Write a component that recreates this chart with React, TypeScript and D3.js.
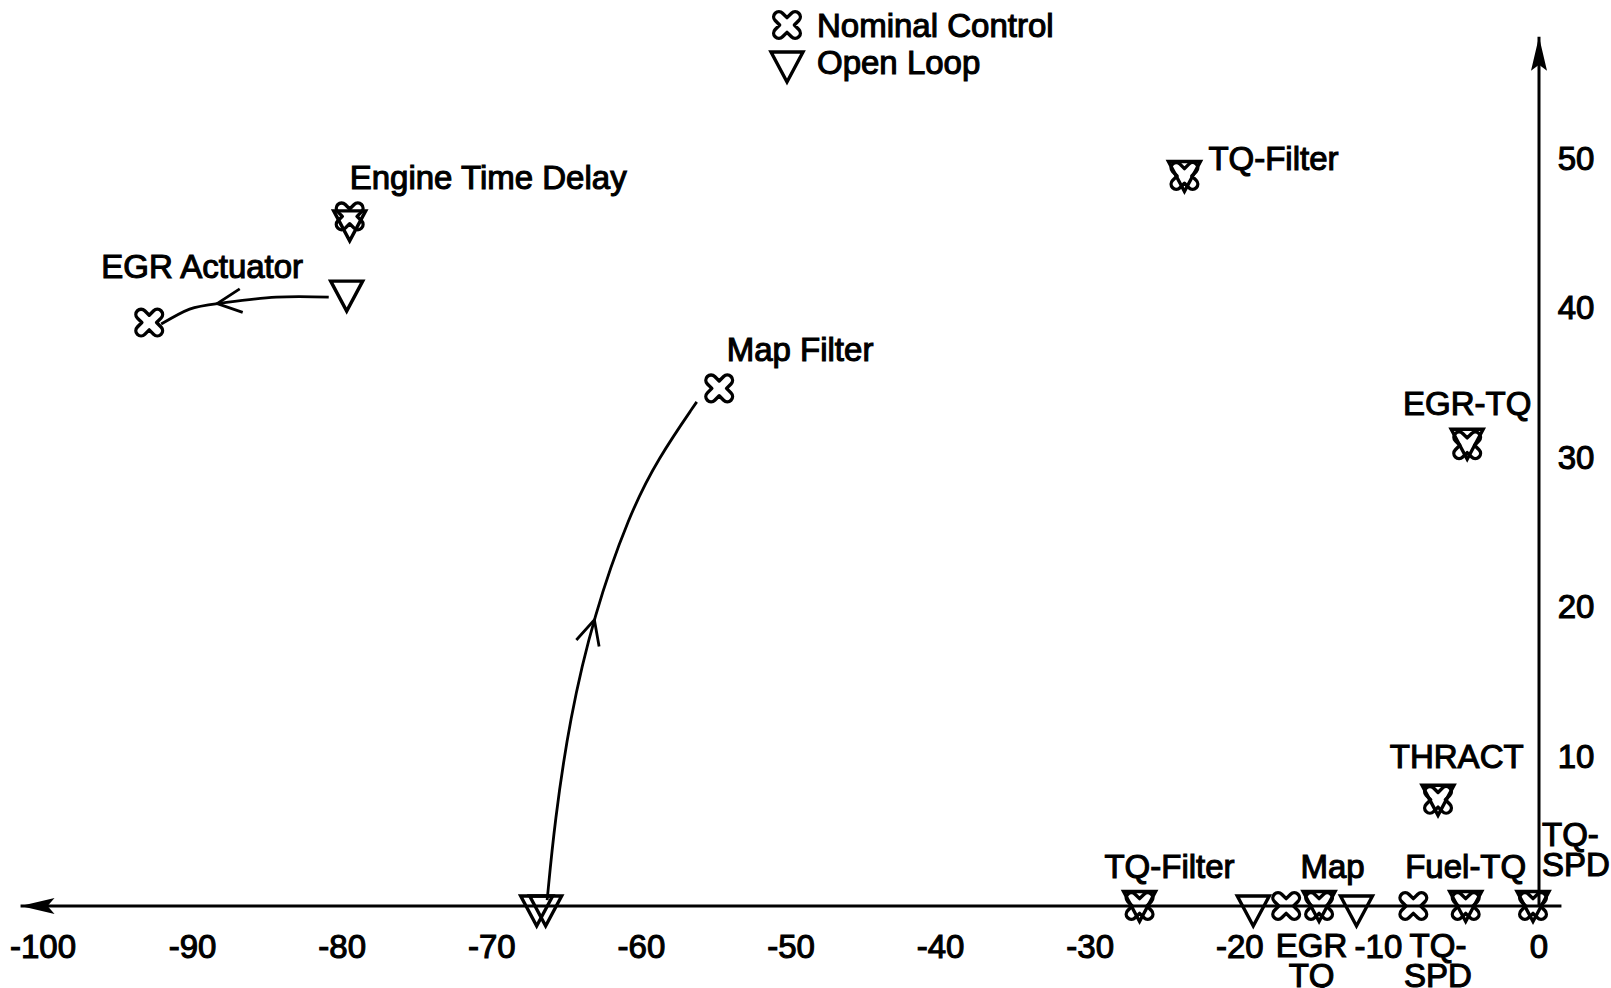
import React, { useEffect, useRef } from 'react';
import * as d3 from 'd3';

const W = 1611;
const H = 988;

// Axis ticks
const xTicks = [-100, -90, -80, -70, -60, -50, -40, -30, -20, -10, 0];
const yTicks = [10, 20, 30, 40, 50];
const xAxisExtent = [-101.5, 1.5];
const yAxisExtent = [0, 58.1];

// Nominal Control (rounded X markers)
const nominalX = [-79.5, -92.9, -54.8, -23.7, -4.8, -6.75, -26.7, -16.9, -14.7, -8.4, -4.9, -0.4];
const nominalY = [46.1, 39.0, 34.6, 48.8, 30.8, 7.1, 0, 0, 0, 0, 0, 0];

// Open Loop (triangle markers)
const openX = [-79.5, -79.7, -67.0, -66.4, -23.7, -4.8, -6.75, -26.7, -19.1, -14.7, -12.2, -4.9, -0.4];
const openY = [45.8, 41.1, 0, 0, 49.1, 31.2, 7.4, 0.3, 0, 0.3, 0, 0.3, 0.3];

// Trajectories (open loop -> nominal)
const egrPathX = [-80.9, -84.4, -88.1, -90.2, -92.1];
const egrPathY = [40.7, 40.7, 40.3, 39.9, 38.9];
const mapPathX = [-66.3, -65.8, -64.8, -63.2, -60.8, -58.9, -56.3];
const mapPathY = [0.4, 5.6, 12.5, 19.4, 26.2, 29.9, 33.7];
const arrowFractions = [0.65, 0.54];

// Point labels
const labelText = [
  ['Engine Time Delay'],
  ['EGR Actuator'],
  ['Map Filter'],
  ['TQ-Filter'],
  ['EGR-TQ'],
  ['THRACT'],
  ['TQ-Filter'],
  ['Map'],
  ['Fuel-TQ'],
  ['TQ-', 'SPD'],
  ['EGR', 'TQ'],
  ['TQ-', 'SPD'],
];
const labelX = [-79.5, -96.1, -54.3, -22.1, -4.8, -5.5, -24.7, -13.8, -4.9, 0.2, -15.2, -6.75];
const labelY = [48.7, 42.8, 37.2, 50.0, 33.6, 10.0, 2.7, 2.7, 2.7, 4.8, -2.6, -2.6];
const labelAnchor = ['start', 'start', 'start', 'start', 'middle', 'middle', 'middle', 'middle', 'middle', 'start', 'middle', 'middle'];

const legendItems = ['Nominal Control', 'Open Loop'];

const FONT = '"Liberation Sans", Arial, Helvetica, sans-serif';
const FS = 33;
// tick label nudges (px) used in the original to make room for point labels
const tickLabelShift = new Map<number, number>([[-10, -11]]);

function nominalPath(w: number, L: number): string {
  const q = w * Math.SQRT2;
  let d = '';
  [45, 135, 225, 315].forEach((deg, k) => {
    const t = (deg * Math.PI) / 180;
    const ux = Math.cos(t), uy = Math.sin(t);
    const nx = -uy, ny = ux;
    const na = t - Math.PI / 4;
    const notch = [q * Math.cos(na), q * Math.sin(na)];
    const s = [L * ux - w * nx, L * uy - w * ny];
    const e = [L * ux + w * nx, L * uy + w * ny];
    d += `${k === 0 ? 'M' : 'L'}${notch[0]},${notch[1]}L${s[0]},${s[1]}A${w},${w} 0 0 1 ${e[0]},${e[1]}`;
  });
  return d + 'Z';
}

const trianglePath = 'M-16,-10L16,-10L0,20Z';

export default function App() {
  const ref = useRef<SVGSVGElement | null>(null);

  useEffect(() => {
    document.body.style.margin = '0';
    document.body.style.overflow = 'hidden';
    const svg = d3.select(ref.current);
    svg.selectAll('*').remove();

    const x = d3.scaleLinear().domain([-100, 0]).range([43, 1539]);
    const y = d3.scaleLinear().domain([0, 50]).range([906, 158]);

    svg.append('rect').attr('width', W).attr('height', H).attr('fill', '#fff');

    const g = svg.append('g');

    // Axes
    g.append('line')
      .attr('x1', x(xAxisExtent[0])).attr('x2', x(xAxisExtent[1]))
      .attr('y1', y(0)).attr('y2', y(0))
      .attr('stroke', '#000').attr('stroke-width', 3);
    g.append('line')
      .attr('x1', x(0)).attr('x2', x(0))
      .attr('y1', y(yAxisExtent[0])).attr('y2', y(yAxisExtent[1]))
      .attr('stroke', '#000').attr('stroke-width', 3);

    // Axis arrowheads
    const lx = x(xAxisExtent[0]), ly = y(0);
    g.append('path')
      .attr('d', `M${lx},${ly}L${lx + 34},${ly - 8}L${lx + 27},${ly}L${lx + 34},${ly + 8}Z`)
      .attr('fill', '#000');
    const tx = x(0), ty = y(yAxisExtent[1]);
    g.append('path')
      .attr('d', `M${tx},${ty}L${tx - 8},${ty + 34}L${tx},${ty + 28}L${tx + 8},${ty + 34}Z`)
      .attr('fill', '#000');

    const textStyle = (sel: any) =>
      sel.attr('font-family', FONT).attr('font-size', FS).attr('fill', '#000')
        .attr('stroke', '#000').attr('stroke-width', 1.1);

    // Tick labels
    g.selectAll('.xt').data(xTicks).enter().append('text')
      .attr('x', (d: number) => x(d) + (tickLabelShift.get(d) || 0)).attr('y', y(0) + 40)
      .attr('text-anchor', 'middle').attr('dominant-baseline', 'central')
      .text((d: number) => String(d))
      .call(textStyle);
    g.selectAll('.yt').data(yTicks).enter().append('text')
      .attr('x', x(0) + 37).attr('y', (d: number) => y(d))
      .attr('text-anchor', 'middle').attr('dominant-baseline', 'central')
      .text((d: number) => String(d))
      .call(textStyle);

    // Trajectories
    const paths = [
      { xs: egrPathX, ys: egrPathY, curve: d3.curveNatural },
      { xs: mapPathX, ys: mapPathY, curve: d3.curveBasis },
    ];
    paths.forEach((p, k) => {
      const pts = p.xs.map((v, i) => [x(v), y(p.ys[i])] as [number, number]);
      const path = g.append('path')
        .attr('d', d3.line().curve(p.curve)(pts) as string)
        .attr('fill', 'none').attr('stroke', '#000').attr('stroke-width', 2.8);
      const node = path.node() as SVGPathElement;
      const Ltot = node.getTotalLength();
      const at = arrowFractions[k] * Ltot;
      const p1 = node.getPointAtLength(at);
      const p0 = node.getPointAtLength(at - 3);
      let dx = p1.x - p0.x, dy = p1.y - p0.y;
      const n = Math.hypot(dx, dy) || 1;
      dx /= n; dy /= n;
      const len = 27, ang = (26 * Math.PI) / 180;
      const barb = (s: number) => {
        const c = Math.cos(s * ang), si = Math.sin(s * ang);
        const bx = -(dx * c - dy * si), by = -(dx * si + dy * c);
        return [p1.x + bx * len, p1.y + by * len];
      };
      const b1 = barb(1), b2 = barb(-1);
      g.append('path')
        .attr('d', `M${b1[0]},${b1[1]}L${p1.x},${p1.y}L${b2[0]},${b2[1]}`)
        .attr('fill', 'none').attr('stroke', '#000').attr('stroke-width', 2.8);
    });

    const nPath = nominalPath(5.2, 11.5);

    // Open loop markers
    g.selectAll('.ol').data(openX).enter().append('path')
      .attr('d', trianglePath)
      .attr('transform', (d: number, i: number) => `translate(${x(d)},${y(openY[i])})`)
      .attr('fill', 'none').attr('stroke', '#000').attr('stroke-width', 3.4);

    // Nominal markers
    g.selectAll('.nm').data(nominalX).enter().append('path')
      .attr('d', nPath)
      .attr('transform', (d: number, i: number) => `translate(${x(d)},${y(nominalY[i])})`)
      .attr('fill', 'none').attr('stroke', '#000').attr('stroke-width', 3.4)
      .attr('stroke-linejoin', 'round');

    // Labels
    labelText.forEach((lines, i) => {
      const t = g.append('text')
        .attr('x', x(labelX[i])).attr('y', y(labelY[i]))
        .attr('text-anchor', labelAnchor[i])
        .attr('dominant-baseline', 'central')
        .call(textStyle);
      lines.forEach((ln, j) => {
        t.append('tspan').attr('x', x(labelX[i])).attr('y', y(labelY[i]) + j * 30)
          .attr('dominant-baseline', 'central').text(ln);
      });
    });

    // Legend
    const leg = svg.append('g').attr('transform', 'translate(787,25)');
    leg.append('path').attr('d', nPath)
      .attr('fill', 'none').attr('stroke', '#000').attr('stroke-width', 3.4).attr('stroke-linejoin', 'round');
    leg.append('path').attr('d', trianglePath).attr('transform', 'translate(0,37)')
      .attr('fill', 'none').attr('stroke', '#000').attr('stroke-width', 3.4);
    legendItems.forEach((s, i) => {
      leg.append('text').attr('x', 30).attr('y', i * 37)
        .attr('dominant-baseline', 'central').text(s).call(textStyle);
    });
  }, []);

  return <svg ref={ref} width={W} height={H} style={{ position: 'absolute', left: 0, top: 0 }} />;
}
